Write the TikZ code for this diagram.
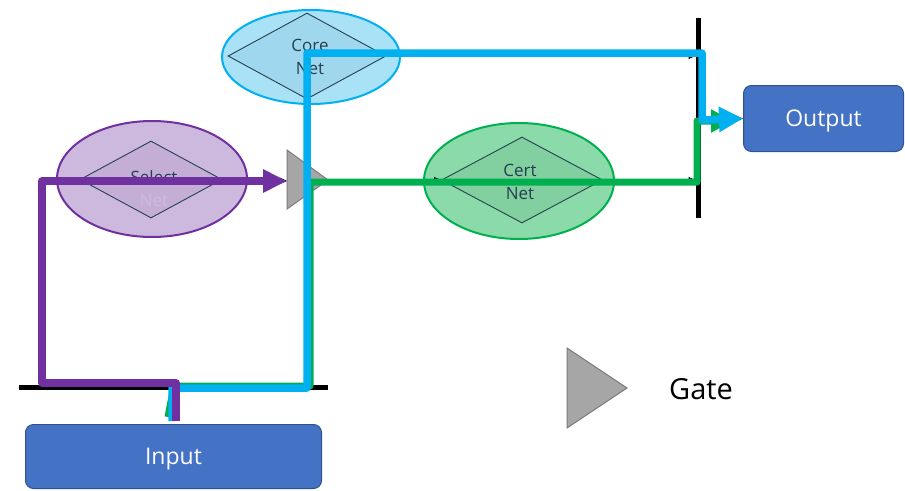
\documentclass[tikz,border=0pt]{standalone}
\usepackage{fontspec}
\setmainfont{Open Sans}
\usetikzlibrary{arrows.meta,shapes.geometric}

\definecolor{coreblue}{HTML}{00B0F0}
\definecolor{corefill}{HTML}{A9E1F6}
\definecolor{corein}{HTML}{9FD8EE}
\definecolor{selpurple}{HTML}{7030A0}
\definecolor{selfill}{HTML}{CDB9DE}
\definecolor{selin}{HTML}{C4AED6}
\definecolor{certgreen}{HTML}{00B050}
\definecolor{certfill}{HTML}{8BDAA9}
\definecolor{certin}{HTML}{82D0A0}
\definecolor{boxblue}{HTML}{4472C4}
\definecolor{boxedge}{HTML}{2F528F}
\definecolor{gategray}{HTML}{A6A6A6}
\definecolor{diaedge}{HTML}{24404F}

\tikzset{
	net/.style={ellipse, inner sep=0, line width=2pt},
	netdia/.style={diamond, inner sep=0, draw=diaedge, line width=0.9pt},
	nettext/.style={align=center, inner sep=0, font=\fontsize{17}{23}\selectfont, text=diaedge},
	iobox/.style={rectangle, rounded corners=8pt, draw=boxedge, line width=1pt, fill=boxblue, text=white, text height=16.5pt, text depth=0pt, font=\fontsize{23}{26}\selectfont},
	bar/.style={line width=5pt, black},
	wire/.style={line width=1pt, -{Triangle[length=7pt,width=6pt]}},
	route/.style={line width=7.5pt, line join=round},
	gatestyle/.style={fill=gategray, draw=gategray!75!black, line width=1pt}
}

\begin{document}
\begin{tikzpicture}[x=1pt, y=-1pt]
	\useasboundingbox (0,0) rectangle (905,490);
	% Nets:
	\node[net, draw=coreblue, fill=corefill, minimum width=178, minimum height=94] (core) at (311,57) {};
	\node[netdia, fill=corein, minimum width=158, minimum height=86] (coredia) at (307,56) {};
	\node[nettext] (coretxt) at (310,57) {Core\\Net};
	\node[net, draw=selpurple, fill=selfill, minimum width=190, minimum height=116] (select) at (152,179) {};
	\node[netdia, fill=selin, minimum width=142, minimum height=77] (selectdia) at (151,179.5) {};
	\node[nettext] (selecttxt) at (154,189) {Select\\{\color{selin!85!white}Net}};
	\node[net, draw=certgreen, fill=certfill, minimum width=190, minimum height=116] (cert) at (519,181) {};
	\node[netdia, fill=certin, minimum width=161, minimum height=86] (certdia) at (522,180) {};
	\node[nettext] (certtxt) at (520,182) {Cert\\Net};
	% Input, output and gates:
	\node[iobox, minimum width=296, minimum height=64] (input) at (173.5,456.5) {Input};
	\node[iobox, minimum width=160, minimum height=66] (output) at (823.5,118.5) {Output};
	\coordinate (gateIn) at (287,181);
	\coordinate (gateOut) at (328,180);
	\draw[gatestyle] (287,150) -- (gateOut) -- (287,209) -- cycle;
	\draw[gatestyle] (567,348) -- (627,388) -- (567,428) -- cycle;
	\node[anchor=west, inner sep=0, font=\fontsize{29}{32}\selectfont] (gatetxt) at (669,389) {Gate};
	% Bars:
	\coordinate (outBarN) at (698,18);
	\coordinate (outBarS) at (698,218);
	\coordinate (outBarMid) at (698,120);
	\coordinate (inBarW) at (19,387);
	\coordinate (inBarE) at (328,387);
	\draw[bar] (outBarN) -- (outBarS);
	\draw[bar] (inBarW) -- (inBarE);
	% Thin wires:
	\draw[wire] (selectdia.east) -- (gateIn);
	\draw[wire] (gateOut) -- (certdia.west);
	\draw[wire, shorten >=2.5pt] (coredia.east) -- (coredia.east -| outBarN);
	\draw[wire, shorten >=2.5pt] (certdia.east) -- (certdia.east -| outBarN);
	\draw[wire] (outBarMid) -- (output.west);
	% Routes:
	\coordinate (g0) at (168,417);
	\coordinate (g1) at (174,386);
	\coordinate (g2) at (310,386);
	\coordinate (g3) at (310,182);
	\coordinate (g4) at (697,182);
	\coordinate (g5) at (697,121);
	\coordinate (g6) at (733,121);
	\draw[route, line width=7pt, certgreen, -{Triangle[length=22pt,width=22pt]}]
		(g0) -- (g1) -- (g2) -- (g3) -- (g4) -- (g5) -- (g6);
	\coordinate (b0) at (172,421);
	\coordinate (b1) at (172,388);
	\coordinate (b2) at (307,388);
	\coordinate (b3) at (307,53);
	\coordinate (b4) at (702,53);
	\coordinate (b5) at (702,120);
	\draw[route, coreblue, -{Triangle[length=24pt,width=24pt]}]
		(b0) -- (b1) -- (b2) -- (b3) -- (b4) -- (b5) -- (output.west);
	\coordinate (p0) at (176,421);
	\coordinate (p1) at (176,383);
	\coordinate (p2) at (42,383);
	\coordinate (p3) at (42,181);
	\draw[route, selpurple, -{Triangle[length=24pt,width=22pt]}]
		(p0) -- (p1) -- (p2) -- (p3) -- (gateIn);
\end{tikzpicture}
\end{document}
